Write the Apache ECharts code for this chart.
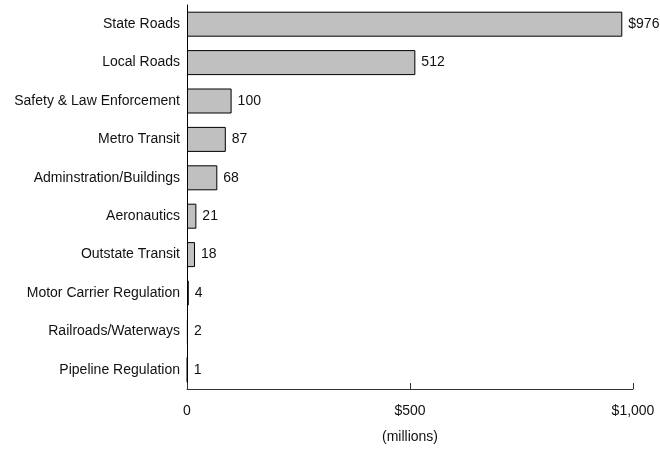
<!DOCTYPE html>
<html>
<head>
<meta charset="utf-8">
<script src="https://cdn.jsdelivr.net/npm/echarts@6/dist/echarts.min.js"></script>
<style>
html, body { margin: 0; padding: 0; background: #fff; }
#chart { width: 660px; height: 451px; }
</style>
</head>
<body>
<div id="chart"></div>
<script>
// 分类和数值
var categories = ['State Roads', 'Local Roads', 'Safety & Law Enforcement', 'Metro Transit',
	'Adminstration/Buildings', 'Aeronautics', 'Outstate Transit', 'Motor Carrier Regulation',
	'Railroads/Waterways', 'Pipeline Regulation'];
var spending = [976, 512, 100, 87, 68, 21, 18, 4, 2, 1];
var xTicks = { 0: '0', 500: '$500', 1000: '$1,000' };

var font = "'Liberation Sans Narrow', 'Arial Narrow', 'Liberation Sans', sans-serif";
var textColor = '#111';

var myChart = echarts.init(document.getElementById('chart'));
var option = {
	animation: false,
	grid: { left: 187, right: 27, top: 5, bottom: 62 },
	xAxis: {
		type: 'value',
		min: 0,
		max: 1000,
		interval: 500,
		name: '(millions)',
		nameLocation: 'middle',
		nameGap: 41,
		nameTextStyle: { fontFamily: font, fontSize: 14, color: textColor },
		axisLine: { show: true, lineStyle: { color: '#333', width: 1 } },
		axisTick: { show: true, inside: true, length: 6, lineStyle: { color: '#333' } },
		splitLine: { show: false },
		axisLabel: {
			fontFamily: font, fontSize: 14, color: textColor, margin: 15,
			formatter: function (v) { return xTicks[v]; }
		}
	},
	yAxis: {
		type: 'category',
		inverse: true,
		data: categories,
		axisLine: { show: true, lineStyle: { color: '#000', width: 1 } },
		axisTick: { show: false },
		axisLabel: { fontFamily: font, fontSize: 14, color: textColor, margin: 7 }
	},
	series: [
		{
			type: 'bar',
			data: spending,
			barWidth: 25,
			itemStyle: { color: '#c0c0c0', borderColor: '#000', borderWidth: 1 },
			label: {
				show: true,
				position: 'right',
				distance: 6,
				fontFamily: font,
				fontSize: 14,
				color: textColor,
				formatter: function (p) {
					return p.dataIndex === 0 ? '$' + p.value : String(p.value);
				}
			}
		}
	]
};
myChart.setOption(option);
</script>
</body>
</html>
